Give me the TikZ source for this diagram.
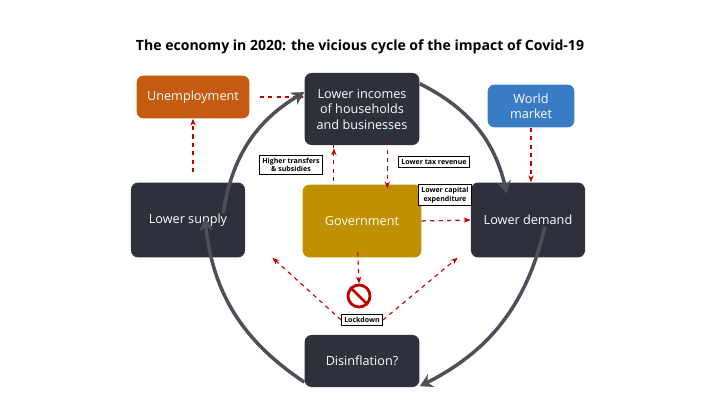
\documentclass[tikz,border=0pt]{standalone}
\usepackage{fontspec}
\setmainfont{Open Sans}
\usetikzlibrary{positioning,arrows.meta}
\definecolor{boxdark}{HTML}{2E313B}
\definecolor{boxorange}{HTML}{C55A11}
\definecolor{boxblue}{HTML}{3A7CC4}
\definecolor{boxgold}{HTML}{BF9000}
\definecolor{dashred}{HTML}{C00000}
\begin{document}
\begin{tikzpicture}[x=0.025cm,y=-0.025cm,
  bigbox/.style={rounded corners=5pt,fill=boxdark,text=white,font=\small,align=center,inner sep=0pt},
  tag/.style={draw,fill=white,font=\tiny\bfseries,align=center,inner sep=2pt},
  redarrow/.style={dashed,thick,dashred,-{Stealth[length=5pt]}},
  cycle/.style={line width=2.5pt,boxdark!85,-{Stealth[length=9pt,width=10pt]}}]
  \useasboundingbox (0,0) rectangle (720,405);
  \node[font=\bfseries] (title) at (360,47) {The economy in 2020: the vicious cycle of the impact of Covid-19};
  % boxes
  \node[bigbox,fill=boxorange,minimum width=113\pgflinewidth*0+2.82cm,minimum height=1.07cm] (unemp) at (193,97) {Unemployment};
  \node[bigbox,minimum width=2.87cm,minimum height=1.8cm] (incomes) at (362,109) {Lower incomes\\of households\\and businesses};
  \node[bigbox,fill=boxblue,minimum width=2.17cm,minimum height=1.07cm] (world) at (531,106) {World\\market};
  \node[bigbox,minimum width=2.85cm,minimum height=1.87cm] (supply) at (188,220) {Lower supply};
  \node[bigbox,fill=boxgold,minimum width=2.97cm,minimum height=1.82cm] (gov) at (362,221) {Government};
  \node[bigbox,minimum width=2.85cm,minimum height=1.87cm] (demand) at (528,220) {Lower demand};
  \node[bigbox,minimum width=2.87cm,minimum height=1.3cm] (disinf) at (362,361) {Disinflation?};
  % labels
  \node[tag] (transfers) at (291,165) {Higher transfers\\\& subsidies};
  \node[tag] (tax) at (434,162) {Lower tax revenue};
  \node[tag] (capex) at (445,195) {Lower capital\\expenditure};
  \node[tag] (lockdown) at (362,320) {Lockdown};
  % no-entry sign
  \node[circle,draw=dashred,line width=2pt,fill=white,minimum size=0.55cm] (stop) at (359,296) {};
  \draw[dashred,line width=2pt] (stop.north west) -- (stop.south east);
  % dashed arrows
  \draw[redarrow] (unemp.east) ++(10,0) coordinate (u1) -- (u1 -| incomes.west);
  \draw[redarrow] (supply.north -| unemp.south) ++(0,-10) -- (unemp.south);
  \draw[redarrow] ([xshift=-20]gov.north) ++(0,-3) -- ([xshift=-20]incomes.south) ++(0,3);
  \draw[redarrow] ([xshift=18,yshift=3]incomes.south) -- ([xshift=18,yshift=-3]gov.north);
  \draw[redarrow] (gov.east) -- (demand.west);
  \draw[redarrow] (world.south) -- (world.south |- demand.north);
  \draw[redarrow] ([xshift=-3,yshift=4]gov.south) -- (stop.north);
  \draw[redarrow] (lockdown.west) -- ([xshift=60]supply.south);
  \draw[redarrow] (lockdown.east) -- ([xshift=-50]demand.south);
  % cycle arrows
  \draw[cycle] ([xshift=25,yshift=-22]supply.north) to[bend left=25] ([yshift=12]incomes.west);
  \draw[cycle] ([yshift=18]incomes.east) to[bend left=25] ([xshift=-15,yshift=-8]demand.north);
  \draw[cycle] ([xshift=12,yshift=22]demand.south) to[bend left=25] ([yshift=-18]disinf.east);
  \draw[cycle] ([yshift=-15]disinf.west) to[bend left=25] ([xshift=12,yshift=28]supply.south);
\end{tikzpicture}
\end{document}
